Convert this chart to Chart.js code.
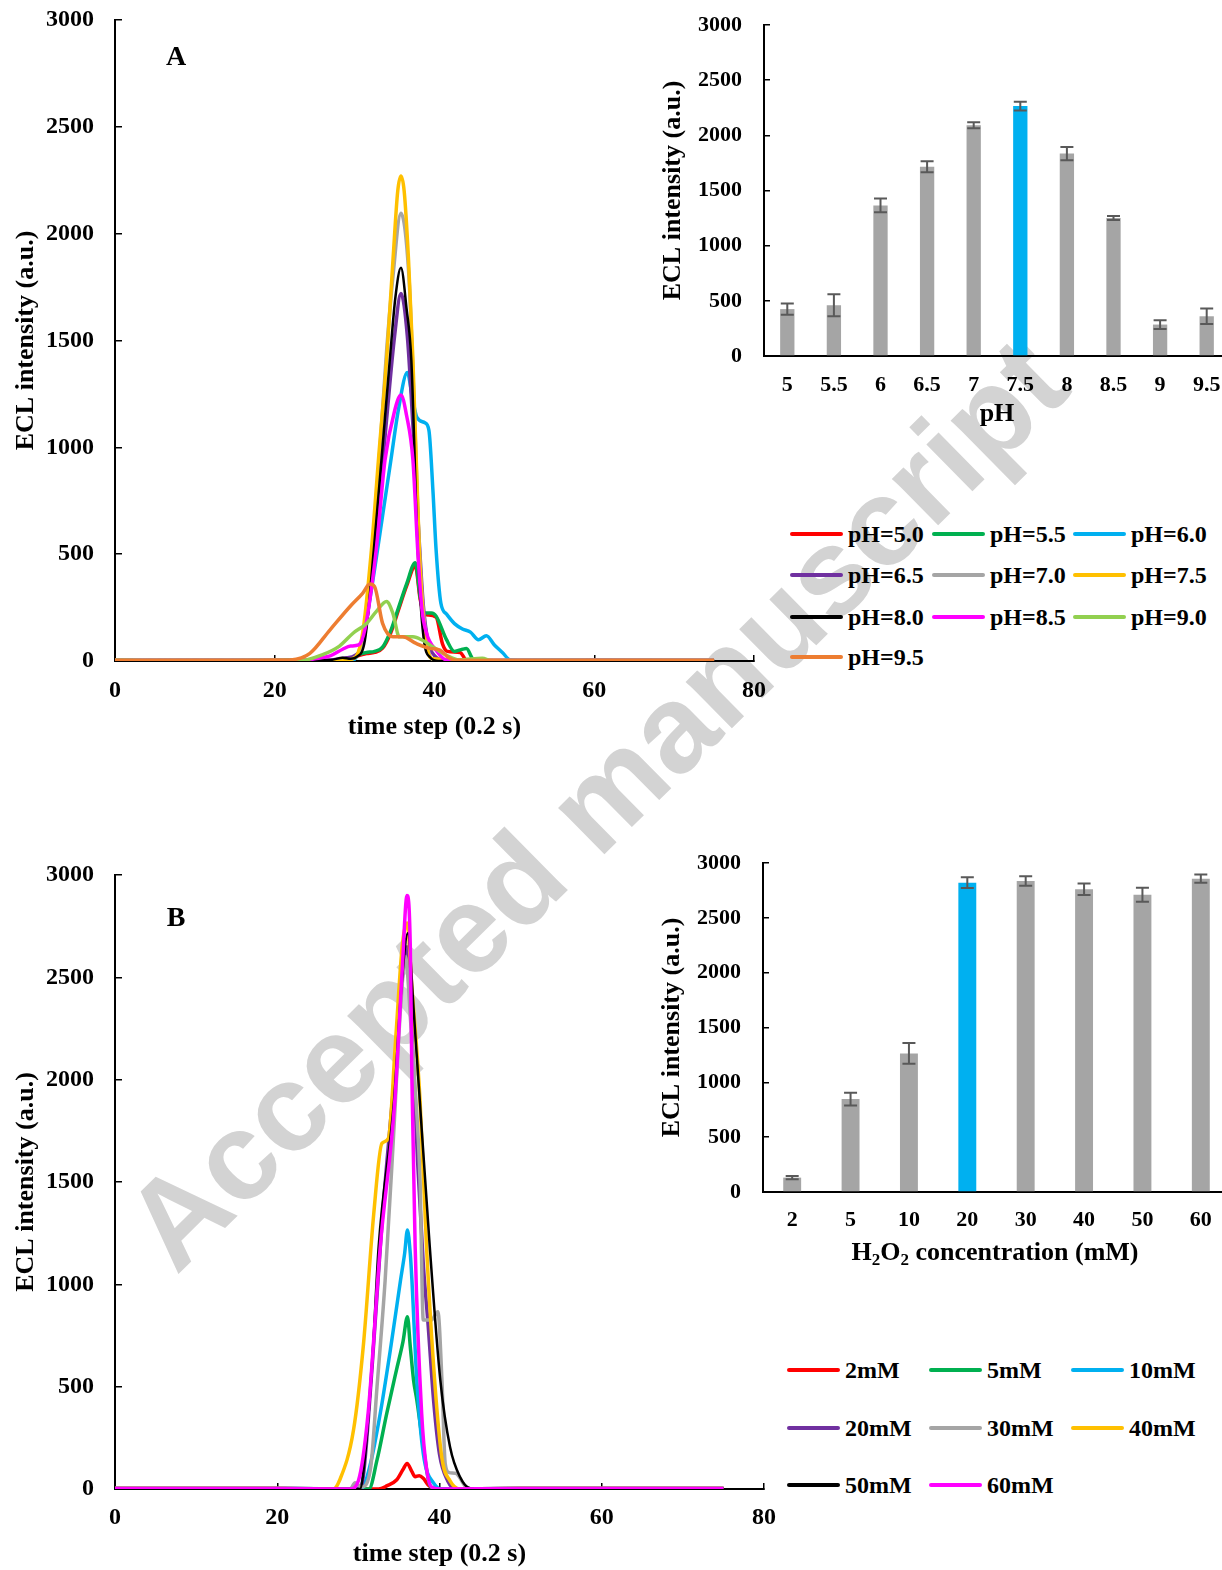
<!DOCTYPE html>
<html>
<head>
<meta charset="utf-8">
<script src="https://cdn.jsdelivr.net/npm/chart.js@4.4.0/dist/chart.umd.min.js"></script>
<style>
html, body { margin: 0; padding: 0; background: #fff; overflow: hidden; }
body { width: 1222px; height: 1570px; position: relative; font-family: 'Liberation Serif', 'Times New Roman', serif; font-weight: bold; }
canvas { position: absolute; z-index: 1; }
#wm { position: absolute; left: 595px; top: 803px; transform: translate(-50%, -50%) rotate(-44.6deg);
      font-family: 'Liberation Sans', Arial, sans-serif; font-weight: bold; font-size: 124px; color: #d3d3d3;
      white-space: nowrap; z-index: 0; }
.panel { position: absolute; z-index: 2; font-size: 28px; transform: translate(-50%, -50%); }
.leg { position: absolute; z-index: 2; display: flex; align-items: center; height: 28px; font-size: 24px; white-space: nowrap; }
.leg span.ln { display: inline-block; width: 53px; height: 4px; margin-right: 5px; border-radius: 2px; }
#h2o2 { position: absolute; z-index: 2; left: 995px; top: 1252px; transform: translate(-50%, -50%); font-size: 26px; white-space: nowrap; }
#h2o2 sub { font-size: 17px; vertical-align: -5px; line-height: 0; }
</style>
</head>
<body>
<div id="wm">Accepted manuscript</div>
<canvas id="mainA" width="770" height="750" style="left:0;top:0"></canvas>
<canvas id="barA" width="580" height="430" style="left:650px;top:0"></canvas>
<canvas id="mainB" width="780" height="730" style="left:0;top:840px"></canvas>
<canvas id="barB" width="580" height="430" style="left:650px;top:840px"></canvas>
<div class="panel" style="left:176px;top:56px">A</div>
<div class="panel" style="left:176px;top:917px">B</div>
<div id="h2o2">H<sub>2</sub>O<sub>2</sub> concentration (mM)</div>
<script>
// ---- panel A: ECL curves at different pH, [time step, intensity]
const phLabels = ['pH=5.0', 'pH=5.5', 'pH=6.0', 'pH=6.5', 'pH=7.0', 'pH=7.5', 'pH=8.0', 'pH=8.5', 'pH=9.0', 'pH=9.5'];
const pH50 = [[0,2],[10,3],[20,2],[29,0],[30.5,25],[31.5,35],[32.5,40],[33.5,60],[34.5,130],[35.5,240],[36.5,350],[37.6,445],[38.2,290],[38.7,220],[39.2,215],[40.2,205],[41,80],[41.6,45],[43.2,40],[44,5],[50,2],[60,3],[75,2]];
const pH55 = [[0,3],[10,2],[20,3],[29,0],[30.5,30],[31.5,40],[32.5,45],[33.5,65],[34.5,140],[35.5,250],[36.5,360],[37.6,460],[38.2,300],[38.7,225],[39.6,225],[40.2,210],[41.5,100],[42.5,45],[43.5,55],[44,58],[44.8,10],[46,0],[55,2],[75,2]];
const pH60 = [[0,3],[10,2],[20,3],[28,0],[29.5,0],[30.5,40],[31.5,200],[32.5,430],[33.5,680],[34.5,930],[35.5,1180],[36.6,1350],[37.2,1240],[37.8,1140],[38.8,1115],[39.3,1080],[39.8,800],[40.2,520],[40.8,270],[41.5,220],[42.5,175],[43.5,150],[44.5,135],[45.5,100],[46.5,118],[47.5,75],[48.5,40],[49.5,5],[55,3],[65,2],[75,2]];
const pH65 = [[0,2],[10,2],[20,3],[27,5],[29,15],[30,25],[31,80],[32,330],[33,720],[34,1130],[35,1520],[35.8,1720],[36.6,1520],[37.3,1100],[38,620],[38.6,260],[39.2,90],[40,25],[41,5],[50,2],[75,2]];
const pH70 = [[0,2],[10,3],[20,2],[28,0],[30,15],[31,100],[32,420],[33,900],[34,1450],[34.8,1800],[35.8,2095],[36.8,1800],[37.3,1350],[38.2,450],[39,100],[39.8,5],[50,2],[75,2]];
const pH75 = [[0,2],[10,2],[20,3],[28,0],[30,15],[31,130],[32.1,519],[33,950],[34,1408],[34.8,1876],[35.4,2200],[35.8,2270],[36.2,2200],[36.75,1876],[37.3,1408],[38.1,519],[38.8,130],[39.8,10],[50,2],[75,2]];
const pH80 = [[0,2],[10,2],[20,2],[27,5],[28.5,15],[29.5,10],[30.3,20],[31.3,100],[32.4,519],[33.4,960],[34.4,1408],[35.1,1700],[35.8,1840],[36.5,1650],[37.1,1408],[37.9,519],[38.6,120],[39.5,15],[40.5,0],[50,2],[75,2]];
const pH85 = [[0,2],[10,2],[20,2],[23,0],[25,10],[27,25],[28.5,55],[29.5,70],[30.5,75],[31.3,150],[32.7,519],[33.8,940],[35,1170],[35.8,1245],[36.5,1150],[37.3,940],[37.9,519],[38.4,250],[39,130],[40.2,50],[41.5,5],[50,2],[75,2]];
const pH90 = [[0,3],[10,2],[20,2],[23,0],[26,30],[28.1,70],[29.8,130],[31.5,176],[32.7,231],[34,278],[34.8,222],[35.6,113],[37.3,113],[38.5,97],[39.8,66],[41.5,27],[43.1,5],[46,13],[47,2],[60,2],[75,2]];
const pH95 = [[0,3],[10,2],[20,3],[22,5],[24.4,36],[26.9,145],[29.4,254],[31,317],[31.9,360],[32.5,348],[33.5,176],[34.8,113],[36,113],[37.7,82],[39.4,59],[40.6,52],[41.9,13],[43,3],[50,2],[75,2]];
const phColors = ['#ff0000', '#00b050', '#00b0f0', '#7030a0', '#a5a5a5', '#ffc000', '#000000', '#ff00ff', '#92d050', '#ed7d31'];

// ---- panel A inset: peak intensity vs pH
const phCats = ['5', '5.5', '6', '6.5', '7', '7.5', '8', '8.5', '9', '9.5'];
const phMeans = [425, 460, 1365, 1715, 2092, 2265, 1835, 1250, 285, 360];
const phErrs = [50, 100, 63, 50, 27, 40, 60, 18, 40, 70];

// ---- panel B: ECL curves at different H2O2 concentration
const concLabels = ['2mM', '5mM', '10mM', '20mM', '30mM', '40mM', '50mM', '60mM'];
const c2 = [[0,2],[10,3],[20,2],[32.5,0],[33.5,15],[34.7,44],[35.5,95],[36,125],[36.6,85],[37,60],[37.5,65],[38,52],[38.6,20],[39.5,0],[50,2],[75,2]];
const c5 = [[0,2],[10,2],[20,3],[31.3,0],[32.3,142],[33.5,370],[34.7,582],[35.5,720],[36.05,842],[36.4,695],[36.8,533],[37.2,436],[38,208],[38.8,20],[39.5,0],[50,2],[75,2]];
const c10 = [[0,3],[10,2],[20,3],[30,0],[30.6,10],[31.5,125],[32.7,370],[34,695],[35.2,1021],[35.7,1150],[36.05,1265],[36.4,1150],[36.6,1021],[37.2,533],[38,174],[39.3,27],[40.5,0],[50,2],[75,2]];
const c20 = [[0,2],[10,2],[20,2],[30,0],[30.6,60],[31.7,600],[33,1350],[34.4,2000],[35.3,2450],[36,2650],[36.7,2150],[37.3,1600],[38,1100],[38.6,800],[39.3,420],[40,170],[41,40],[42,0],[50,2],[75,2]];
const c30 = [[0,2],[10,2],[20,2],[29,0],[29.6,30],[30.4,10],[31.5,100],[32.3,500],[33.3,1021],[34.3,1700],[35.2,2350],[35.8,2600],[36.5,2250],[37.1,1900],[37.6,1509],[38,826],[39,826],[39.8,866],[40.3,532],[40.7,125],[41.2,80],[42,77],[43.2,13],[44,0],[50,2],[75,2]];
const c40 = [[0,3],[10,2],[20,3],[26.9,0],[27.7,44],[29.4,288],[30.6,695],[31.9,1347],[32.9,1689],[33.7,1713],[34.6,2200],[35.4,2650],[36,2765],[36.6,2450],[37.6,1900],[38.4,1184],[39.4,532],[40.3,150],[41.3,40],[42.5,0],[50,2],[75,2]];
const c50 = [[0,2],[10,2],[20,2],[30.2,0],[30.6,77],[31.7,614],[32.5,1184],[34.4,1900],[35.3,2450],[36.1,2716],[36.8,2350],[37.4,1998],[38.8,1184],[40.1,532],[41.3,205],[42.5,61],[43.8,4],[50,2],[75,2]];
const c60 = [[0,2],[10,3],[20,2],[29,0],[30,40],[31.2,370],[32.7,1184],[34.5,1900],[35.4,2535],[36,2900],[36.4,2650],[36.6,2000],[37,1184],[37.8,370],[38.4,100],[39,10],[40,0],[50,2],[75,2]];
const concColors = ['#ff0000', '#00b050', '#00b0f0', '#7030a0', '#a5a5a5', '#ffc000', '#000000', '#ff00ff'];

// ---- panel B inset: peak intensity vs H2O2 concentration
const concCats = ['2', '5', '10', '20', '30', '40', '50', '60'];
const concMeans = [131, 847, 1264, 2820, 2836, 2760, 2711, 2857];
const concErrs = [15, 58, 94, 49, 43, 52, 64, 37];

const BAR_GREY = '#a5a5a5';
const BAR_BLUE = '#00b0f0';

Chart.defaults.font.family = "'Liberation Serif', 'Times New Roman', serif";
Chart.defaults.font.weight = 'bold';
Chart.defaults.color = '#000';

// scale box sizes fixed so the plot areas land where they do in the figure
function fixBox(s, key, val) {
  s[key] = val;
  s.paddingTop = 0; s.paddingBottom = 0; s.paddingLeft = 0; s.paddingRight = 0;
}
const plain = v => String(v);

const errorBars = {
  id: 'errorBars',
  afterDatasetsDraw(chart, args, opts) {
    const meta = chart.getDatasetMeta(0);
    const y = chart.scales.y;
    const data = chart.data.datasets[0].data;
    const ctx = chart.ctx;
    ctx.save();
    ctx.strokeStyle = '#595959';
    ctx.lineWidth = 2;
    meta.data.forEach((bar, i) => {
      const top = y.getPixelForValue(data[i] + opts.errors[i]);
      const bot = y.getPixelForValue(data[i] - opts.errors[i]);
      ctx.beginPath();
      ctx.moveTo(bar.x, top); ctx.lineTo(bar.x, bot);
      ctx.moveTo(bar.x - 6.5, top); ctx.lineTo(bar.x + 6.5, top);
      ctx.moveTo(bar.x - 6.5, bot); ctx.lineTo(bar.x + 6.5, bot);
      ctx.stroke();
    });
    ctx.restore();
  }
};

function lineChart(id, series, labels, colors, lay) {
  return new Chart(document.getElementById(id), {
    type: 'line',
    data: {
      datasets: series.map((s, i) => ({
        label: labels[i],
        data: s.map(p => ({ x: p[0], y: p[1] })),
        borderColor: colors[i],
        borderWidth: colors[i] === '#000000' ? 2.5 : 3.5,
        pointRadius: 0,
        cubicInterpolationMode: 'monotone',
        fill: false,
        order: series.length - i
      }))
    },
    options: {
      responsive: false,
      animation: false,
      layout: { padding: { top: lay.top, right: lay.right, left: 0, bottom: 0 } },
      scales: {
        x: {
          type: 'linear', min: 0, max: 80,
          afterFit: s => fixBox(s, 'height', lay.xh),
          ticks: { stepSize: 20, font: { size: 24 }, padding: lay.xpad, maxRotation: 0, callback: plain },
          grid: { drawOnChartArea: false, tickLength: -6, color: '#000', lineWidth: 1.5 },
          border: { color: '#000', width: 2 },
          title: { display: true, text: 'time step (0.2 s)', font: { size: 26 }, padding: { top: 0, bottom: lay.xtp } }
        },
        y: {
          min: 0, max: 3000,
          afterFit: s => fixBox(s, 'width', 115),
          ticks: { stepSize: 500, font: { size: 24 }, padding: 28, callback: plain },
          grid: { drawOnChartArea: false, tickLength: -7, color: '#000', lineWidth: 1.5 },
          border: { color: '#000', width: 2 },
          title: { display: true, text: 'ECL intensity (a.u.)', font: { size: 26 }, padding: { top: 11, bottom: 0 } }
        }
      },
      plugins: { legend: { display: false }, tooltip: { enabled: false } }
    }
  });
}

function barChart(id, cats, means, errs, hi, lay) {
  return new Chart(document.getElementById(id), {
    type: 'bar',
    data: {
      labels: cats,
      datasets: [{
        data: means,
        backgroundColor: cats.map((c, i) => i === hi ? BAR_BLUE : BAR_GREY),
        barPercentage: 0.307,
        categoryPercentage: 1
      }]
    },
    plugins: [errorBars],
    options: {
      responsive: false,
      animation: false,
      layout: { padding: { top: lay.top, right: 0, left: 0, bottom: 0 } },
      scales: {
        x: {
          afterFit: s => fixBox(s, 'height', lay.xh),
          ticks: { font: { size: 22 }, padding: lay.xpad, maxRotation: 0, autoSkip: false },
          grid: { drawOnChartArea: false, drawTicks: false },
          border: { color: '#000', width: 2 },
          title: { display: lay.xtitle !== '', text: lay.xtitle, font: { size: 26 }, padding: { top: 0, bottom: 0 } }
        },
        y: {
          min: 0, max: 3000,
          afterFit: s => fixBox(s, 'width', lay.yw),
          ticks: { stepSize: 500, font: { size: 22 }, padding: 28, callback: plain },
          grid: { drawOnChartArea: false, tickLength: -6, color: '#000', lineWidth: 1.5 },
          border: { color: '#000', width: 2 },
          title: { display: true, text: 'ECL intensity (a.u.)', font: { size: 26 }, padding: { top: lay.ytp, bottom: 0 } }
        }
      },
      plugins: { legend: { display: false }, tooltip: { enabled: false }, errorBars: { errors: errs } }
    }
  });
}

lineChart('mainA', [pH50, pH55, pH60, pH65, pH70, pH75, pH80, pH85, pH90, pH95], phLabels, phColors,
  { top: 20, right: 16, xh: 89, xpad: 21, xtp: 7 });
lineChart('mainB', [c2, c5, c10, c20, c30, c40, c50, c60], concLabels, concColors,
  { top: 35, right: 16, xh: 81, xpad: 20, xtp: 0 });
barChart('barA', phCats, phMeans, phErrs, 5, { top: 25, xh: 74, xpad: 16, xtitle: 'pH', yw: 114, ytp: 8 });
barChart('barB', concCats, concMeans, concErrs, 3, { top: 23, xh: 78, xpad: 15, xtitle: '', yw: 113, ytp: 7 });

// HTML legends built from the same labels / colours
function legend(labels, colors, rows, cols) {
  labels.forEach((lab, i) => {
    const d = document.createElement('div');
    d.className = 'leg';
    d.style.left = cols[i % 3] + 'px';
    d.style.top = (rows[Math.floor(i / 3)] - 14) + 'px';
    const ln = document.createElement('span');
    ln.className = 'ln';
    ln.style.background = colors[i];
    d.appendChild(ln);
    d.appendChild(document.createTextNode(lab));
    document.body.appendChild(d);
  });
}
legend(phLabels, phColors, [534, 575, 617, 657], [790, 932, 1073]);
legend(concLabels, concColors, [1370, 1428, 1485], [787, 929, 1071]);
</script>
</body>
</html>
